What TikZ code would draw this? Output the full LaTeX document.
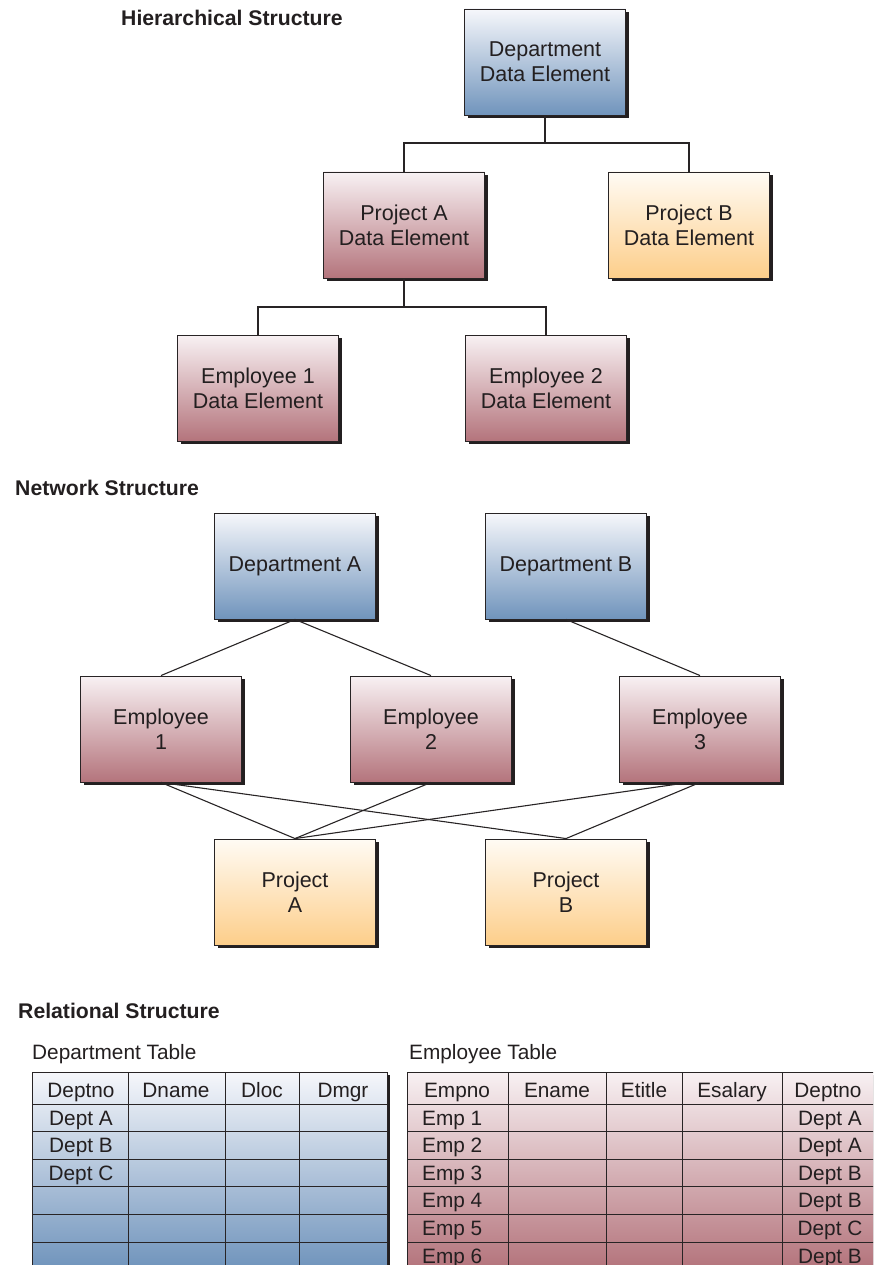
\documentclass[tikz,border=0pt]{standalone}
\usepackage{fontspec}
\setmainfont{Liberation Sans}
\usetikzlibrary{shadows}
\definecolor{txt}{RGB}{35,31,32}
\definecolor{edge}{RGB}{40,36,37}
\definecolor{shad}{RGB}{35,31,32}
\definecolor{blueT}{RGB}{246,247,251}
\definecolor{blueB}{RGB}{112,148,188}
\definecolor{marT}{RGB}{248,241,243}
\definecolor{marB}{RGB}{180,116,124}
\definecolor{orT}{RGB}{255,251,244}
\definecolor{orB}{RGB}{253,206,138}
\begin{document}
\begin{tikzpicture}[x=1pt,y=-1pt,
  every node/.style={text=txt},
  databox/.style={draw=edge, line width=0.9pt, minimum width=161pt, minimum height=106pt,
    inner sep=0pt, align=center, font=\fontsize{21.5}{25}\selectfont,
    drop shadow={shadow xshift=3pt, shadow yshift=-3pt, fill=shad, opacity=1}},
  bluebox/.style={databox, top color=blueT, bottom color=blueB},
  marbox/.style={databox, top color=marT, bottom color=marB},
  orbox/.style={databox, top color=orT, bottom color=orB},
  conn/.style={draw=edge, line width=1.1pt},
  title/.style={font=\fontsize{21.2}{25}\selectfont\bfseries, inner sep=0pt, anchor=base west},
  label/.style={font=\fontsize{20.8}{24}\selectfont, inner sep=0pt, anchor=base},
  grid/.style={draw=edge, line width=1pt}
]
\useasboundingbox (0,0) rectangle (873,1265);
\clip (0,0) rectangle (873,1265);

% ---------- Hierarchical ----------
\node[title] (th) at (121,26) {Hierarchical Structure};
\node[bluebox] (hdept) at (545,62) {Department\\Data Element};
\node[marbox] (hpa) at (404,225) {Project A\\Data Element};
\node[orbox] (hpb) at (689,225) {Project B\\Data Element};
\node[marbox] (he1) at (258,388) {Employee 1\\Data Element};
\node[marbox] (he2) at (546,388) {Employee 2\\Data Element};
\coordinate (j1) at (545,143);
\coordinate (j2) at (404,307);
\draw[conn] (hdept.south) -- (j1);
\draw[conn] (hpa.north) |- (j1) -| (hpb.north);
\draw[conn] (hpa.south) -- (j2);
\draw[conn] (he1.north) |- (j2) -| (he2.north);

% ---------- Network ----------
\node[title] (tn) at (15,495) {Network Structure};
\node[bluebox] (nda) at (295,566) {Department A};
\node[bluebox] (ndb) at (566,566) {Department B};
\node[marbox] (ne1) at (161,729) {Employee\\1};
\node[marbox] (ne2) at (431,729) {Employee\\2};
\node[marbox] (ne3) at (700,729) {Employee\\3};
\node[orbox] (npa) at (295,892) {Project\\A};
\node[orbox] (npb) at (566,892) {Project\\B};
\draw[conn] (nda.south) -- (ne1.north);
\draw[conn] (nda.south) -- (ne2.north);
\draw[conn] (ndb.south) -- (ne3.north);
\draw[conn] (ne1.south) -- (npa.north);
\draw[conn] (ne1.south) -- (npb.north);
\draw[conn] (ne2.south) -- (npa.north);
\draw[conn] ([xshift=-11pt]ne3.south) -- (npa.north);
\draw[conn] (ne3.south) -- (npb.north);

% ---------- Relational ----------
\node[title] (tr) at (18,1018.5) {Relational Structure};
\node[label, anchor=base west] (tdt) at (32,1059) {Department Table};
\node[label, anchor=base west] (tet) at (409,1059) {Employee Table};

% Department table
\fill[shad] (35,1075) rectangle (390,1280);
\shade[top color=blueT, bottom color=blueB] (32,1072) rectangle (387,1268);
\draw[grid] (32,1072) rectangle (387,1290);
\foreach \xx in {128,225,299} \draw[grid] (\xx,1072) -- (\xx,1290);
\foreach \yy in {1104,1131.6,1159.2,1186.8,1214.4,1242} \draw[grid] (32,\yy) -- (387,\yy);
\node[label] (dh1) at (81,1097) {Deptno};
\node[label] (dh2) at (176,1097) {Dname};
\node[label] (dh3) at (262,1097) {Dloc};
\node[label] (dh4) at (343,1097) {Dmgr};
\node[label] (dr1) at (81,1125) {Dept A};
\node[label] (dr2) at (81,1152.6) {Dept B};
\node[label] (dr3) at (81,1180.2) {Dept C};

% Employee table
\fill[shad] (410,1075) rectangle (890,1280);
\shade[top color=marT, bottom color=marB] (407,1072) rectangle (887,1268);
\draw[grid] (407,1072) rectangle (887,1290);
\foreach \xx in {508,606,682,782} \draw[grid] (\xx,1072) -- (\xx,1290);
\foreach \yy in {1104,1131.6,1159.2,1186.8,1214.4,1242} \draw[grid] (407,\yy) -- (887,\yy);
\node[label] (eh1) at (457,1097) {Empno};
\node[label] (eh2) at (557,1097) {Ename};
\node[label] (eh3) at (644,1097) {Etitle};
\node[label] (eh4) at (732,1097) {Esalary};
\node[label] (eh5) at (828,1097) {Deptno};
\foreach \n/\yy/\d in {1/1125/A,2/1152.6/A,3/1180.2/B,4/1207.8/B,5/1235.4/C,6/1263/B}{
  \node[label, anchor=base west] (er\n) at (422,\yy) {Emp \n};
  \node[label] (ed\n) at (830,\yy) {Dept \d};
}
\end{tikzpicture}
\end{document}
